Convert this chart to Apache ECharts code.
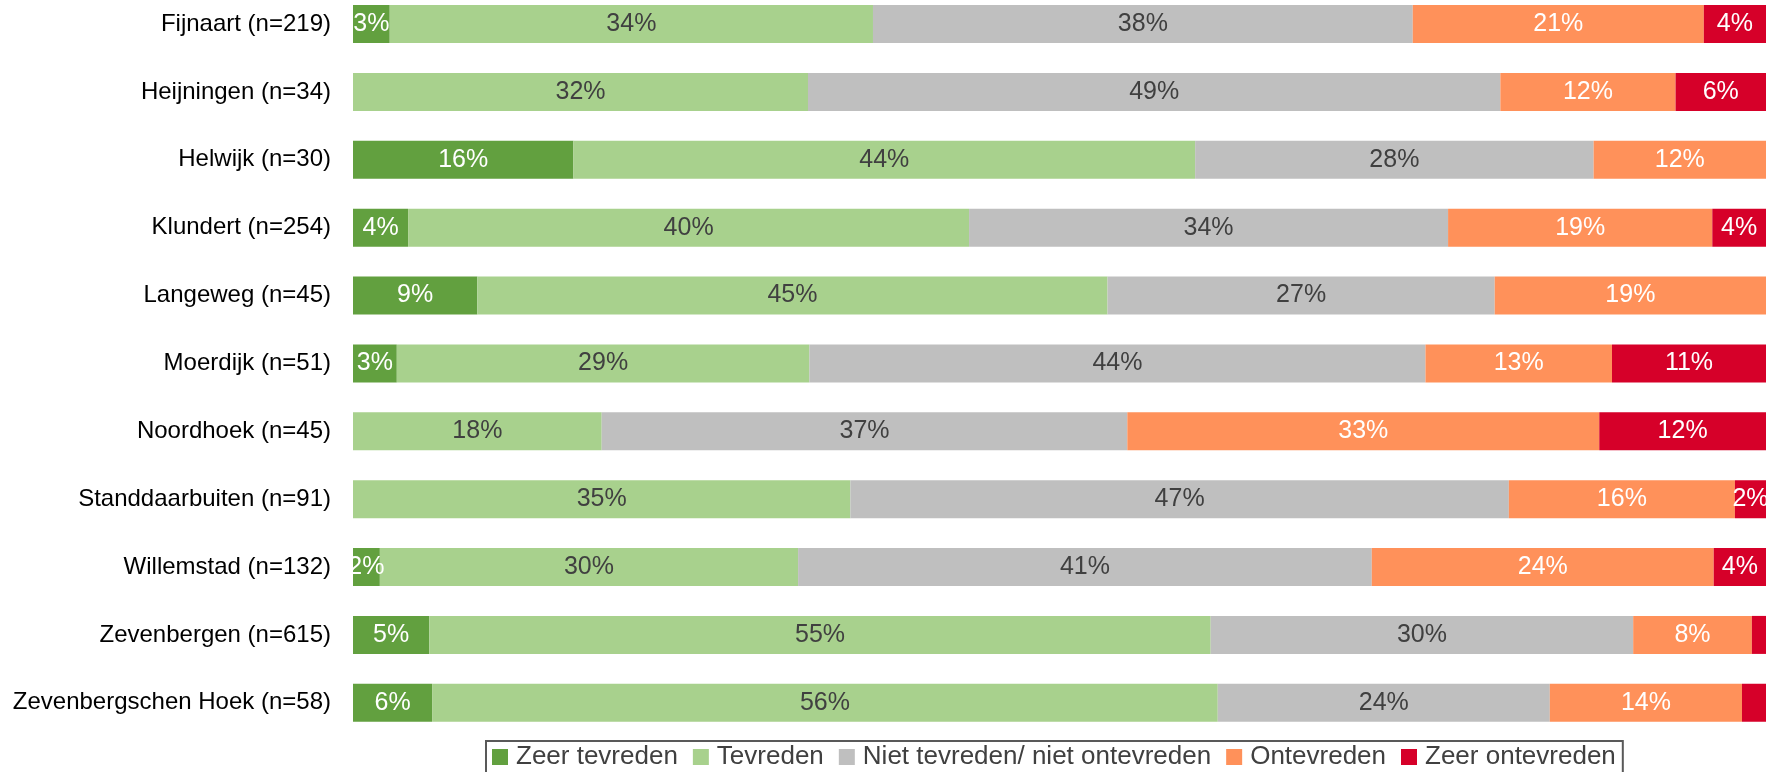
<!DOCTYPE html>
<html>
<head>
<meta charset="utf-8">
<script src="https://cdn.jsdelivr.net/npm/echarts@6/dist/echarts.min.js"></script>
<style>
html,body{margin:0;padding:0;background:#fff;}
#chart{width:1772px;height:772px;}
</style>
</head>
<body>
<div id="chart"></div>
<script>
const categories = [
  'Fijnaart (n=219)', 'Heijningen (n=34)', 'Helwijk (n=30)', 'Klundert (n=254)',
  'Langeweg (n=45)', 'Moerdijk (n=51)', 'Noordhoek (n=45)', 'Standdaarbuiten (n=91)',
  'Willemstad (n=132)', 'Zevenbergen (n=615)', 'Zevenbergschen Hoek (n=58)'
];
const seriesNames = ['Zeer tevreden', 'Tevreden', 'Niet tevreden/ niet ontevreden', 'Ontevreden', 'Zeer ontevreden'];
const zeerTevreden      = [2.6, 0,    15.6, 3.9,  8.8,  3.1,  0,    0,    1.9,  5.4,  5.6];
const tevreden          = [34.2, 32.2, 44.0, 39.7, 44.6, 29.2, 17.6, 35.2, 29.6, 55.3, 55.6];
const nietTevreden      = [38.2, 49.0, 28.2, 33.9, 27.4, 43.6, 37.2, 46.6, 40.6, 29.9, 23.5];
const ontevreden        = [20.6, 12.4, 12.2, 18.7, 19.2, 13.2, 33.4, 16.0, 24.2, 8.4,  13.6];
const zeerOntevreden    = [4.4,  6.4,  0,    3.8,  0,    10.9, 11.8, 2.2,  3.7,  1.0,  1.7];

const values = [zeerTevreden, tevreden, nietTevreden, ontevreden, zeerOntevreden];
const colors = ['#62A03F', '#A8D18D', '#BFBFBF', '#FF915A', '#D60029'];
const labelColors = ['#ffffff', '#404040', '#404040', '#ffffff', '#ffffff'];
const FONT = '"Liberation Sans", Arial, sans-serif';

const chart = echarts.init(document.getElementById('chart'), null, {renderer: 'canvas'});
const series = seriesNames.map((name, i) => ({
  name: name,
  type: 'bar',
  stack: 'total',
  barWidth: 38,
  clip: false,
  data: values[i],
  itemStyle: {color: colors[i]},
  label: {
    show: true,
    position: 'inside',
    color: labelColors[i],
    fontSize: 25,
    fontFamily: FONT,
    formatter: p => (p.value >= 1.8 ? Math.round(p.value) + '%' : '')
  },
  emphasis: {disabled: true}
}));

chart.setOption({
  animation: false,
  textStyle: {fontFamily: FONT},
  grid: {left: 353, right: 6, top: 24, bottom: 69.2, containLabel: false},
  xAxis: {
    type: 'value', min: 0, max: 100, show: false
  },
  yAxis: {
    type: 'category',
    inverse: true,
    boundaryGap: false,
    data: categories,
    axisLine: {show: false},
    axisTick: {show: false},
    splitLine: {show: false},
    axisLabel: {color: '#000000', fontSize: 24, fontFamily: FONT, margin: 22}
  },
  legend: {
    left: 486,
    top: 741,
    orient: 'horizontal',
    icon: 'rect',
    itemWidth: 16,
    itemHeight: 16,
    itemGap: 15,
    padding: [3, 7, 10, 6],
    borderColor: '#595959',
    borderWidth: 2,
    textStyle: {color: '#404040', fontSize: 26, fontFamily: FONT, lineHeight: 26, padding: [0, 0, 0, 3]},
    data: seriesNames
  },
  series: series
});
</script>
</body>
</html>
